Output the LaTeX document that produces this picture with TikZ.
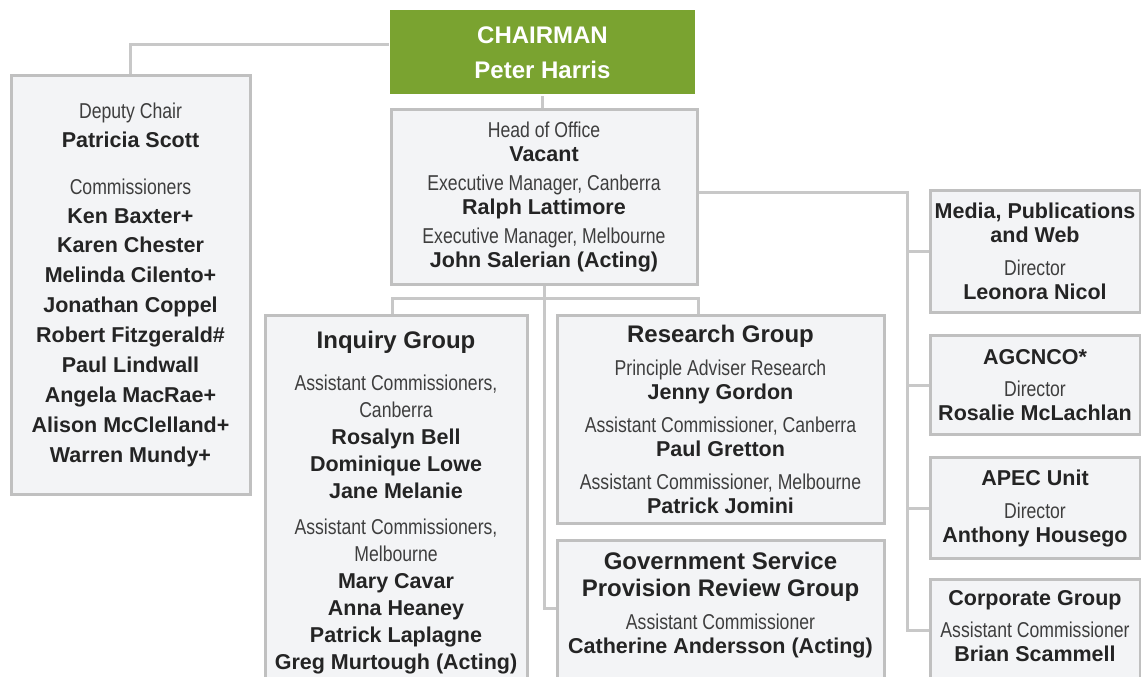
\documentclass[tikz,border=0pt]{standalone}
\usepackage{fontspec}
\setmainfont{Liberation Sans}
\newfontfamily\narrowfont[FakeStretch=0.82]{Liberation Sans}
\usepackage{tikz}
\definecolor{chairgreen}{RGB}{122,163,48}
\definecolor{boxfill}{RGB}{243,244,246}
\definecolor{boxline}{RGB}{192,192,192}
\definecolor{linegray}{RGB}{200,200,200}
\definecolor{namecol}{RGB}{36,36,36}
\definecolor{rolecol}{RGB}{62,62,62}
\newcommand{\rl}[1]{{\narrowfont\mdseries\color{rolecol}#1}}
\newcommand{\grp}[1]{{\fontsize{24}{27}\selectfont #1}}

\begin{document}
\begin{tikzpicture}[x=1pt, y=-1pt,
      box/.style={draw=boxline, fill=boxfill, line width=3pt, anchor=north, align=center, inner sep=0pt, text=namecol, font=\fontsize{21.5}{24}\selectfont\bfseries},
      conn/.style={draw=linegray, line width=3pt}]
      \useasboundingbox (0,0) rectangle (1141,677);
      \fill[white] (0,0) rectangle (1141,677);
      \clip (0,0) rectangle (1141,677);
      \node at (542.5,9)[box, draw=none, fill=chairgreen, text=white, minimum width=305pt, minimum height=84pt, font=\fontsize{24}{27}\selectfont\bfseries] (chair){CHAIRMAN\\[8pt]Peter Harris};
      \node at (130.5,74)[box, minimum width=239pt, minimum height=419pt] (dep){\rl{Deputy Chair}\\[5pt]Patricia Scott\\[23pt]\rl{Commissioners}\\[5pt]Ken Baxter+\\[5pt]Karen Chester\\[6pt]Melinda Cilento+\\[6pt]Jonathan Coppel\\[6pt]Robert Fitzgerald\#\\[6pt]Paul Lindwall\\[6pt]Angela MacRae+\\[6pt]Alison McClelland+\\[6pt]Warren Mundy+};
      \node at (544,108)[box, minimum width=306pt, minimum height=175pt] (head){\rl{Head of Office}\\Vacant\\[5pt]\rl{Executive Manager, Canberra}\\Ralph Lattimore\\[5pt]\rl{Executive Manager, Melbourne}\\John Salerian (Acting)};
      \node at (396,314)[box, minimum width=262pt, inner ysep=16pt] (inq){\grp{Inquiry Group}\\[18pt]\rl{Assistant Commissioners,}\\[3pt]\rl{Canberra}\\[3pt]Rosalyn Bell\\[3pt]Dominique Lowe\\[3pt]Jane Melanie\\[12pt]\rl{Assistant Commissioners,}\\[3pt]\rl{Melbourne}\\[3pt]Mary Cavar\\[3pt]Anna Heaney\\[3pt]Patrick Laplagne\\[3pt]Greg Murtough (Acting)\\[10pt]~};
      \node at (720.5,314)[box, minimum width=327pt, minimum height=208pt] (res){\grp{Research Group}\\[9pt]\rl{Principle Adviser Research}\\Jenny Gordon\\[9pt]\rl{Assistant Commissioner, Canberra}\\Paul Gretton\\[9pt]\rl{Assistant Commissioner, Melbourne}\\Patrick Jomini};
      \node at (720.5,539)[box, minimum width=327pt, inner ysep=12pt] (gov){\grp{Government Service}\\[3pt]\grp{Provision Review Group}\\[9pt]\rl{Assistant Commissioner}\\Catherine Andersson (Acting)\\[20pt]~};
      \node at (1035,189)[box, minimum width=210pt, minimum height=122pt] (med){Media, Publications\\and Web\\[9pt]\rl{Director}\\Leonora Nicol};
      \node at (1035,334)[box, minimum width=210pt, minimum height=99pt] (agc){AGCNCO*\\[8pt]\rl{Director}\\Rosalie McLachlan};
      \node at (1035,456)[box, minimum width=210pt, minimum height=101pt] (apec){APEC Unit\\[9pt]\rl{Director}\\Anthony Housego};
      \node at (1035,578)[box, minimum width=210pt, inner ysep=11pt] (corp){Corporate Group\\[8pt]\rl{Assistant Commissioner}\\Brian Scammell\\[20pt]~};
      \coordinate (spine) at ([xshift=-21pt]med.west);
      \draw[conn] ([yshift=8pt]chair.west) -| (dep.north);
      \draw[conn] (chair.south) -- (chair.south |- head.north);
      \draw[conn] (head.south) |- ([yshift=-69pt]gov.north west);
      \draw[conn] ([xshift=-4pt]inq.north) -- ++(0,-16) -| (res.north -| head.east);
      \draw[conn] ([yshift=5pt]head.east) -| ([xshift=-21pt,yshift=-52pt]corp.north west) -- ([yshift=-52pt]corp.north west);
      \draw[conn] (spine) -- (med.west);
      \draw[conn] (spine |- agc.west) -- (agc.west);
      \draw[conn] (spine |- apec.west) -- (apec.west);
\end{tikzpicture}
\end{document}
